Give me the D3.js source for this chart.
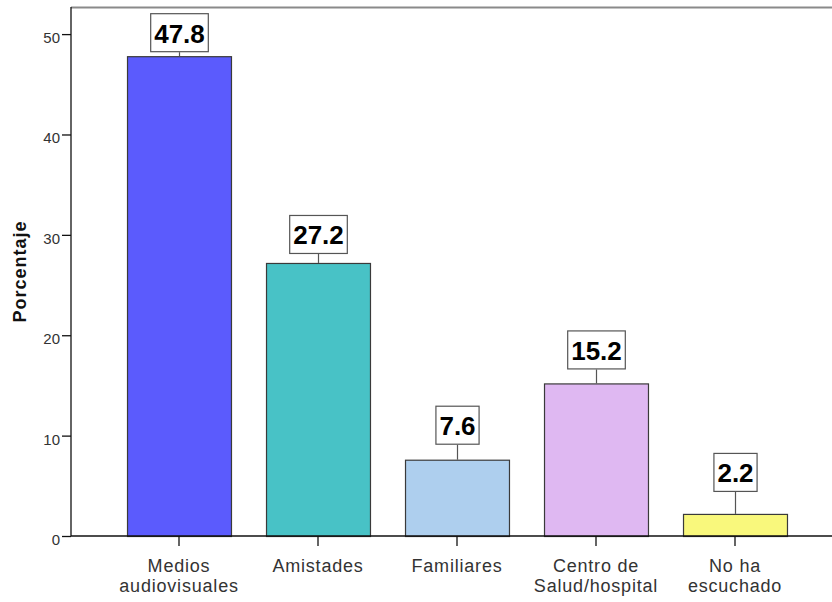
<!DOCTYPE html>
<html>
<head>
<meta charset="utf-8">
<script src="https://cdn.jsdelivr.net/npm/d3@7"></script>
<style>
  html, body { margin: 0; padding: 0; background: #fff; }
  svg { display: block; font-family: Arial, "Liberation Sans", sans-serif; }
</style>
</head>
<body>
<svg id="chart" width="832" height="602"></svg>
<script>
// Categories (each may wrap onto two lines) and their percentages
const categories = ["Medios audiovisuales", "Amistades", "Familiares", "Centro de Salud/hospital", "No ha escuchado"];
const categoryLines = [["Medios", "audiovisuales"], ["Amistades"], ["Familiares"], ["Centro de", "Salud/hospital"], ["No ha", "escuchado"]];
const percentages = [47.8, 27.2, 7.6, 15.2, 2.2];
const barColors = ["#5b5bfd", "#48c2c6", "#aecfee", "#dfb8f2", "#f9f87c"];
const yTicks = [0, 10, 20, 30, 40, 50];

// Vertical lift of each value callout above its bar (px)
const labelLift = [4, 9, 15, 14, 22];

const FONT = "Arial, 'Liberation Sans', sans-serif";
const svg = d3.select("#chart");
const plotLeft = 71, plotRight = 832, plotTop = 7, plotBottom = 536;

const x = d3.scaleBand()
  .domain(categories)
  .range([109.5, 804.5])
  .paddingInner(0.252)
  .paddingOuter(0.126);

const y = d3.scaleLinear()
  .domain([0, 52.7])
  .range([plotBottom, plotTop]);

// Top frame line
svg.append("line")
  .attr("x1", plotLeft).attr("x2", plotRight)
  .attr("y1", plotTop + 0.5).attr("y2", plotTop + 0.5)
  .attr("stroke", "#8a8a8a").attr("stroke-width", 2);

// Bars
svg.append("g").selectAll("rect")
  .data(categories)
  .join("rect")
  .attr("x", d => x(d) + 0.5)
  .attr("y", (d, i) => y(percentages[i]) + 0.5)
  .attr("width", x.bandwidth())
  .attr("height", (d, i) => y(0) - y(percentages[i]))
  .attr("fill", (d, i) => barColors[i])
  .attr("stroke", "#3a3a3a")
  .attr("stroke-width", 1.2);

// Y axis
const yAxis = svg.append("g")
  .attr("transform", `translate(${plotLeft},0)`)
  .call(d3.axisLeft(y).tickValues(yTicks).tickSize(9).tickPadding(2).tickFormat(d3.format("d")));
yAxis.select(".domain").attr("d", `M0,${plotTop}V${plotBottom}`).attr("stroke", "#111").attr("stroke-width", 1.3);
yAxis.selectAll(".tick line").attr("stroke", "#111").attr("stroke-width", 1.3);
yAxis.selectAll(".tick text")
  .attr("font-size", 15)
  .attr("dy", "0.56em")
  .attr("fill", "#333")
  .attr("font-family", FONT);

// X axis, with two-line category labels as separate text rows
const xAxis = svg.append("g")
  .attr("transform", `translate(0,${plotBottom})`)
  .call(d3.axisBottom(x).tickSize(10).tickFormat(""));
xAxis.select(".domain").attr("d", `M${plotLeft},0H${plotRight}`).attr("stroke", "#111").attr("stroke-width", 1.3);
xAxis.selectAll(".tick line").attr("stroke", "#111").attr("stroke-width", 1.3);
xAxis.selectAll(".tick").each(function(d, i) {
  const tick = d3.select(this);
  categoryLines[i].forEach((line, k) => {
    tick.append("text")
      .attr("text-anchor", "middle")
      .attr("font-size", 18)
      .attr("letter-spacing", 0.8)
      .attr("fill", "#333")
      .attr("font-family", FONT)
      .attr("x", 0)
      .attr("y", 35.5 + k * 20.5)
      .text(line);
  });
});

// Y axis title
svg.append("text")
  .attr("transform", `translate(26,${(plotTop + plotBottom) / 2}) rotate(-90)`)
  .attr("text-anchor", "middle")
  .attr("font-size", 18)
  .attr("letter-spacing", 1)
  .attr("font-weight", "bold")
  .attr("fill", "#111")
  .attr("font-family", FONT)
  .text("Porcentaje");

// Value callouts
const callouts = svg.append("g").selectAll("g")
  .data(categories)
  .join("g")
  .attr("transform", (d, i) => `translate(${x(d) + x.bandwidth() / 2 + 0.5},${y(percentages[i]) - labelLift[i]})`);

callouts.append("line")
  .attr("x1", 0).attr("x2", 0)
  .attr("y1", 0).attr("y2", (d, i) => labelLift[i])
  .attr("stroke", "#555").attr("stroke-width", 1.2);

callouts.each(function(d, i) {
  const g = d3.select(this);
  const txt = g.append("text")
    .attr("text-anchor", "middle")
    .attr("y", -9.5)
    .attr("font-size", 26)
    .attr("font-weight", "bold")
    .attr("fill", "#000")
    .attr("font-family", FONT)
    .text(percentages[i].toFixed(1));
  const w = txt.node().getComputedTextLength() + 7;
  g.insert("rect", "text")
    .attr("x", -w / 2)
    .attr("y", -38.5)
    .attr("width", w)
    .attr("height", 38)
    .attr("fill", "#fff")
    .attr("stroke", "#555")
    .attr("stroke-width", 1.2);
});
</script>
</body>
</html>
